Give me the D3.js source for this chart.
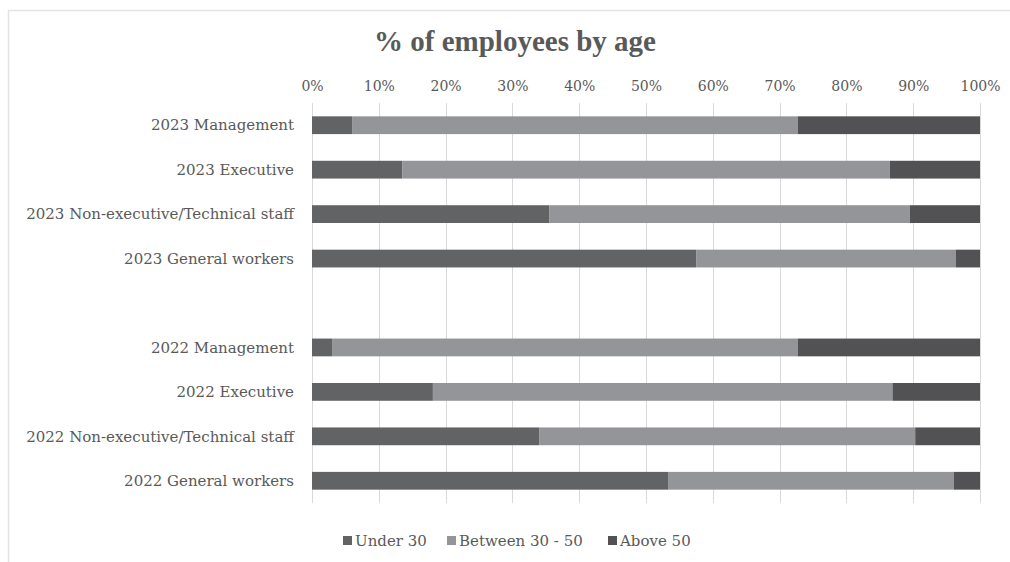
<!DOCTYPE html>
<html lang="en">
<head>
  <meta charset="UTF-8">
  <title>% of employees by age</title>
  <style>
    body {
      margin: 0;
      padding: 0;
      background-color: #ffffff;
    }

    #chart {
      width: 1010px;
      height: 562px;
    }

    text {
      font-family: "DejaVu Serif", "Liberation Serif", serif;
      fill: #595959;
    }

    .grid line {
      stroke: #d9d9d9;
      stroke-width: 1;
    }
  </style>
</head>
<body>

  <div id="chart"></div>

  <script src="https://d3js.org/d3.v7.min.js"></script>
  <script>
    // categories top to bottom ("" is the empty spacer row)
    const categories = [
      "2023 Management",
      "2023 Executive",
      "2023 Non-executive/Technical staff",
      "2023 General workers",
      "",
      "2022 Management",
      "2022 Executive",
      "2022 Non-executive/Technical staff",
      "2022 General workers"
    ];

    const seriesNames = ["Under 30", "Between 30 - 50", "Above 50"];

    // percentages
    const under30   = [6.0, 13.5, 35.5, 57.5, null, 3.0, 18.1, 34.0, 53.3];
    const between   = [66.7, 73.0, 54.0, 38.9, null, 69.7, 68.8, 56.3, 42.8];
    const above50   = [27.3, 13.5, 10.5, 3.6, null, 27.3, 13.1, 9.7, 3.9];

    const xTicks = [0, 10, 20, 30, 40, 50, 60, 70, 80, 90, 100];

    const colors = ["#626365", "#939598", "#525254"];

    const width = 1010, height = 562;
    const margin = { top: 103, right: 30, bottom: 59, left: 312 };

    const svg = d3.select('#chart').append('svg')
      .attr('width', width)
      .attr('height', height);

    // light frame (top and left edges visible)
    svg.append('path')
      .attr('d', `M8.5,${height} V10.5 H${width}`)
      .attr('fill', 'none')
      .attr('stroke', '#e3e3e3')
      .attr('stroke-width', 1.5);

    const x = d3.scaleLinear()
      .domain([0, 100])
      .range([margin.left, width - margin.right]);

    const y = d3.scaleBand()
      .domain(categories.map((c, i) => i))
      .range([margin.top, height - margin.bottom])
      .paddingInner(0.6)
      .paddingOuter(0.3);

    // vertical gridlines
    svg.append('g')
      .attr('class', 'grid')
      .selectAll('line')
      .data(xTicks)
      .enter().append('line')
      .attr('x1', d => Math.round(x(d)) + 0.5)
      .attr('x2', d => Math.round(x(d)) + 0.5)
      .attr('y1', margin.top)
      .attr('y2', height - margin.bottom);

    // top axis labels
    const xAxis = svg.append('g')
      .attr('transform', `translate(0,${margin.top - 12})`)
      .call(d3.axisTop(x).tickValues(xTicks).tickFormat(d => d + '%').tickSize(0).tickPadding(0));
    xAxis.select('.domain').remove();
    xAxis.selectAll('text')
      .style('font-family', '"DejaVu Serif", serif')
      .style('font-size', '14px')
      .attr('fill', '#595959');

    // stacked data
    const rows = categories.map((c, i) => ({
      idx: i,
      values: [under30[i], between[i], above50[i]]
    })).filter(r => r.values[0] !== null);

    const segs = [];
    rows.forEach(r => {
      let acc = 0;
      r.values.forEach((v, k) => {
        segs.push({ idx: r.idx, k: k, x0: acc, x1: acc + v });
        acc += v;
      });
    });

    svg.append('g')
      .selectAll('rect')
      .data(segs)
      .enter().append('rect')
      .attr('x', d => x(d.x0))
      .attr('width', d => x(d.x1) - x(d.x0))
      .attr('y', d => y(d.idx))
      .attr('height', y.bandwidth())
      .attr('fill', d => colors[d.k]);

    // category labels
    svg.append('g')
      .selectAll('text')
      .data(categories.map((c, i) => ({ c, i })).filter(d => d.c))
      .enter().append('text')
      .attr('x', margin.left - 18)
      .attr('y', d => y(d.i) + y.bandwidth() / 2)
      .attr('dy', '0.35em')
      .attr('text-anchor', 'end')
      .style('font-size', '15px')
      .text(d => d.c);

    // title
    svg.append('text')
      .attr('x', 515)
      .attr('y', 51)
      .attr('text-anchor', 'middle')
      .style('font-family', '"Liberation Serif", serif')
      .style('font-size', '29px')
      .style('font-weight', 'bold')
      .text('% of employees by age');

    // legend
    const legendX = [343, 447, 608];
    const legend = svg.append('g')
      .selectAll('g')
      .data(seriesNames)
      .enter().append('g')
      .attr('transform', (d, i) => `translate(${legendX[i]},541)`);

    legend.append('rect')
      .attr('x', 0)
      .attr('y', -5)
      .attr('width', 9)
      .attr('height', 9)
      .attr('fill', (d, i) => colors[i]);

    legend.append('text')
      .attr('x', 12)
      .attr('y', 0)
      .attr('dy', '0.35em')
      .style('font-size', '15px')
      .text(d => d);
  </script>
</body>
</html>
